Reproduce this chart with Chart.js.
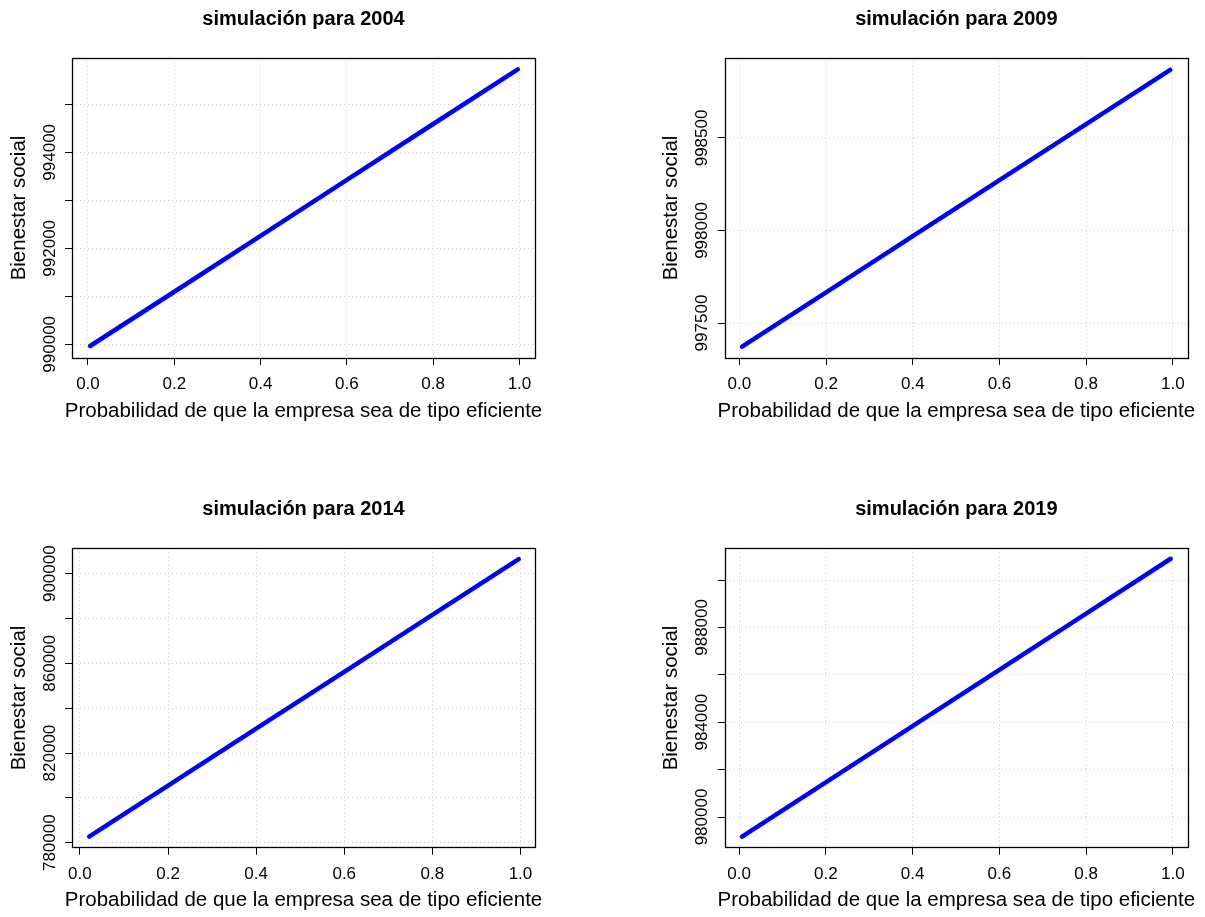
<!DOCTYPE html>
<html>
<head>
<meta charset="utf-8">
<script src="https://cdn.jsdelivr.net/npm/chart.js@4"></script>
<style>
  body { margin: 0; background: #fff; }
  #wrap { position: relative; width: 1205px; height: 917px; }
  canvas { position: absolute; }
</style>
</head>
<body>
<div id="wrap">
  <canvas id="p2004" width="600" height="458" style="left:0;top:0"></canvas>
  <canvas id="p2009" width="605" height="458" style="left:600px;top:0"></canvas>
  <canvas id="p2014" width="600" height="459" style="left:0;top:458px"></canvas>
  <canvas id="p2019" width="605" height="459" style="left:600px;top:458px"></canvas>
</div>
<script>
// Text
const titles = ['simulación para 2004', 'simulación para 2009', 'simulación para 2014', 'simulación para 2019']
const xLabel = 'Probabilidad de que la empresa sea de tipo eficiente'
const yLabel = 'Bienestar social'

// Series (probability, social welfare)
const prob2004 = [0.005, 0.2, 0.4, 0.6, 0.8, 0.996]
const bienestar2004 = [989965, 991095, 992260, 993425, 994590, 995729]
const prob2009 = [0.006, 0.2, 0.4, 0.6, 0.8, 0.994]
const bienestar2009 = [997372, 997666, 997970, 998272, 998575, 998868]
const prob2014 = [0.021, 0.2, 0.4, 0.6, 0.8, 0.996]
const bienestar2014 = [782700, 805450, 830850, 856250, 881650, 906500]
const prob2019 = [0.007, 0.2, 0.4, 0.6, 0.8, 0.995]
const bienestar2019 = [979170, 981460, 983835, 986210, 988580, 990897]

// Ticks
const xTicks = [0, 0.2, 0.4, 0.6, 0.8, 1.0]
const xTickLabels = ['0.0', '0.2', '0.4', '0.6', '0.8', '1.0']
const yTicks2004 = [990000, 991000, 992000, 993000, 994000, 995000]
const yTickLabels2004 = ['990000', '', '992000', '', '994000', '']
const yTicks2009 = [997500, 998000, 998500]
const yTickLabels2009 = ['997500', '998000', '998500']
const yTicks2014 = [780000, 800000, 820000, 840000, 860000, 880000, 900000]
const yTickLabels2014 = ['780000', '', '820000', '', '860000', '', '900000']
const yTicks2019 = [980000, 982000, 984000, 986000, 988000, 990000]
const yTickLabels2019 = ['980000', '', '984000', '', '988000', '']

// Axis ranges (R pads the data range by 4%)
const xRange2004 = [-0.037, 1.036]
const yRange2004 = [989715, 995965]
const xRange2009 = [-0.034, 1.035]
const yRange2009 = [997311, 998932]
const xRange2014 = [-0.018, 1.033]
const yRange2014 = [777770, 911331]
const xRange2019 = [-0.033, 1.035]
const yRange2019 = [978705, 991338]

const fontFamily = "'Liberation Sans', Arial, Helvetica, sans-serif"

// Draws the box, main title, rotated y labels and axis titles the way R does
const rStyle = {
  id: 'rStyle',
  afterDraw(chart, args, opts) {
    const { ctx, chartArea: a } = chart
    const y = chart.scales.y
    ctx.save()
    ctx.strokeStyle = '#000'
    ctx.lineWidth = 1.3
    ctx.strokeRect(Math.round(a.left) + 0.5, Math.round(a.top) + 0.5, Math.round(a.right - a.left), Math.round(a.bottom - a.top))

    ctx.fillStyle = '#000'
    ctx.textAlign = 'center'
    ctx.textBaseline = 'middle'
    ctx.font = 'bold 20px ' + fontFamily
    ctx.fillText(opts.title, (a.left + a.right) / 2, a.top - 39)

    ctx.font = '17px ' + fontFamily
    opts.yTickLabels.forEach((lab, i) => {
      if (!lab) return
      ctx.save()
      ctx.translate(a.left - 22, y.getPixelForValue(opts.yTicks[i]))
      ctx.rotate(-Math.PI / 2)
      ctx.fillText(lab, 0, 0)
      ctx.restore()
    })

    ctx.font = '20.5px ' + fontFamily
    ctx.save()
    ctx.translate(a.left - 53, (a.top + a.bottom) / 2)
    ctx.rotate(-Math.PI / 2)
    ctx.fillText(yLabel, 0, 0)
    ctx.restore()
    ctx.fillText(xLabel, (a.left + a.right) / 2, a.bottom + 53)
    ctx.restore()
  }
}

const makePanel = (id, title, xs, ys, xRange, yRange, yTicks, yTickLabels, box) => {
  const canvas = document.getElementById(id)
  const h = canvas.height
  return new Chart(canvas, {
    type: 'line',
    data: {
      datasets: [{
        data: xs.map((p, i) => ({ x: p, y: ys[i] })),
        borderColor: '#0000ff',
        borderWidth: 4.5,
        borderCapStyle: 'round',
        pointRadius: 0,
        tension: 0,
      }]
    },
    options: {
      responsive: false,
      animation: false,
      layout: { padding: { left: 0, top: box.top, right: canvas.width - box.right, bottom: 0 } },
      plugins: {
        legend: { display: false },
        tooltip: { enabled: false },
        rStyle: { title: title, yTicks: yTicks, yTickLabels: yTickLabels },
      },
      scales: {
        x: {
          type: 'linear',
          min: xRange[0],
          max: xRange[1],
          afterBuildTicks: s => { s.ticks = xTicks.map(v => ({ value: v })) },
          afterFit: s => { s.height = h - box.bottom },
          ticks: {
            autoSkip: false,
            maxRotation: 0,
            padding: 9,
            color: '#000',
            font: { family: fontFamily, size: 17 },
            callback: (v) => xTickLabels[xTicks.findIndex(t => Math.abs(t - v) < 1e-9)],
          },
          grid: { color: '#cfcfcf', tickColor: '#000', tickLength: 7, tickBorderDash: [] },
          border: { display: false, dash: [1, 3] },
        },
        y: {
          type: 'linear',
          min: yRange[0],
          max: yRange[1],
          afterBuildTicks: s => { s.ticks = yTicks.map(v => ({ value: v })) },
          afterFit: s => { s.width = box.left },
          ticks: { display: false },
          grid: { color: '#cfcfcf', tickColor: '#000', tickLength: 7, tickBorderDash: [] },
          border: { display: false, dash: [1, 3] },
        }
      }
    },
    plugins: [rStyle]
  })
}

makePanel('p2004', titles[0], prob2004, bienestar2004, xRange2004, yRange2004, yTicks2004, yTickLabels2004, { left: 72, right: 535, top: 58, bottom: 358 })
makePanel('p2009', titles[1], prob2009, bienestar2009, xRange2009, yRange2009, yTicks2009, yTickLabels2009, { left: 124.7, right: 588, top: 58, bottom: 358 })
makePanel('p2014', titles[2], prob2014, bienestar2014, xRange2014, yRange2014, yTicks2014, yTickLabels2014, { left: 72, right: 535, top: 90.3, bottom: 389.7 })
makePanel('p2019', titles[3], prob2019, bienestar2019, xRange2019, yRange2019, yTicks2019, yTickLabels2019, { left: 124.7, right: 588, top: 90.3, bottom: 389.7 })
</script>
</body>
</html>
